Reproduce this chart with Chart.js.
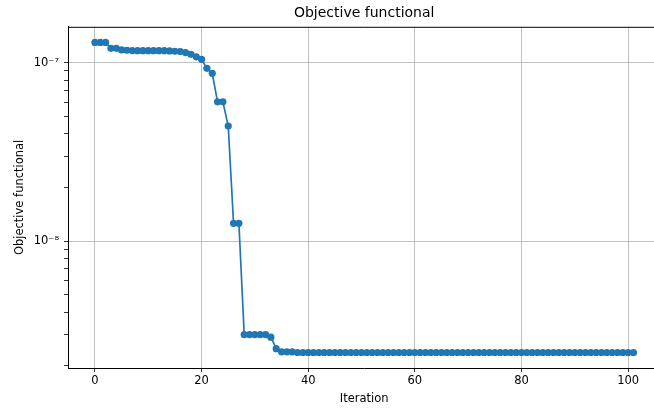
<!DOCTYPE html>
<html>
<head>
<meta charset="utf-8">
<script src="https://cdn.jsdelivr.net/npm/chart.js@4"></script>
<style>
  html, body { margin: 0; padding: 0; background: #fff; overflow: hidden; }
</style>
</head>
<body>
<canvas id="chart-objective" width="664" height="408"></canvas>
<script>
// objective value per optimisation iteration
const objective = [
  1.30e-7, 1.30e-7, 1.30e-7, 1.205e-7, 1.205e-7, 1.18e-7, 1.175e-7, 1.17e-7, 1.168e-7, 1.168e-7,
  1.168e-7, 1.168e-7, 1.168e-7, 1.168e-7, 1.165e-7, 1.16e-7, 1.155e-7, 1.14e-7, 1.115e-7, 1.08e-7,
  1.045e-7, 9.3e-8, 8.72e-8, 6.04e-8, 6.04e-8, 4.42e-8, 1.26e-8, 1.26e-8, 3.0e-9, 3.0e-9,
  3.0e-9, 3.0e-9, 3.0e-9, 2.9e-9, 2.5e-9, 2.4e-9, 2.4e-9, 2.4e-9, 2.38e-9, 2.38e-9,
  2.38e-9, 2.38e-9, 2.38e-9, 2.38e-9, 2.38e-9, 2.38e-9, 2.38e-9, 2.38e-9, 2.38e-9, 2.38e-9,
  2.38e-9, 2.38e-9, 2.38e-9, 2.38e-9, 2.38e-9, 2.38e-9, 2.38e-9, 2.38e-9, 2.38e-9, 2.38e-9,
  2.38e-9, 2.38e-9, 2.38e-9, 2.38e-9, 2.38e-9, 2.38e-9, 2.38e-9, 2.38e-9, 2.38e-9, 2.38e-9,
  2.38e-9, 2.38e-9, 2.38e-9, 2.38e-9, 2.38e-9, 2.38e-9, 2.38e-9, 2.38e-9, 2.38e-9, 2.38e-9,
  2.38e-9, 2.38e-9, 2.38e-9, 2.38e-9, 2.38e-9, 2.38e-9, 2.38e-9, 2.38e-9, 2.38e-9, 2.38e-9,
  2.38e-9, 2.38e-9, 2.38e-9, 2.38e-9, 2.38e-9, 2.38e-9, 2.38e-9, 2.38e-9, 2.38e-9, 2.38e-9,
  2.38e-9, 2.38e-9
];
const iterations = objective.map((_, i) => i);

const xTicks = [0, 20, 40, 60, 80, 100];
const yMajorTicks = [1e-8, 1e-7];
const yMajorLabels = ["10⁻⁸", "10⁻⁷"];
const yMinorTicks = [2e-9, 3e-9, 4e-9, 5e-9, 6e-9, 7e-9, 8e-9, 9e-9,
                     2e-8, 3e-8, 4e-8, 5e-8, 6e-8, 7e-8, 8e-8, 9e-8];

const blue = "#1f77b4";
const font = { family: "DejaVu Sans", size: 11.5 };

function majorIndex(v) {
  return yMajorTicks.findIndex(m => Math.abs(v / m - 1) < 1e-6);
}

// top spine, like a boxed axes
const frame = {
  id: "frame",
  afterDraw(chart) {
    const { ctx, chartArea } = chart;
    ctx.save();
    ctx.strokeStyle = "#000";
    ctx.lineWidth = 1;
    ctx.beginPath();
    ctx.moveTo(chartArea.left, chartArea.top + 0.5);
    ctx.lineTo(chartArea.right, chartArea.top + 0.5);
    ctx.stroke();
    ctx.restore();
  }
};

const ctx = document.getElementById("chart-objective").getContext("2d");
new Chart(ctx, {
  type: "line",
  data: {
    datasets: [{
      data: iterations.map((x, i) => ({ x: x, y: objective[i] })),
      borderColor: blue,
      backgroundColor: blue,
      borderWidth: 1.7,
      pointRadius: 3.6,
      pointBorderWidth: 0,
      pointHoverRadius: 3.6,
      tension: 0
    }]
  },
  plugins: [frame],
  options: {
    responsive: false,
    animation: false,
    layout: { padding: 0 },
    plugins: {
      legend: { display: false },
      tooltip: { enabled: false },
      title: {
        display: true,
        text: "Objective functional",
        fullSize: false,
        color: "#000",
        font: { family: "DejaVu Sans", size: 14, weight: "normal" },
        padding: { top: 5, bottom: 5 }
      }
    },
    scales: {
      x: {
        type: "linear",
        min: -5.05,
        max: 106.05,
        afterBuildTicks: scale => { scale.ticks = xTicks.map(v => ({ value: v })); },
        afterFit: scale => { scale.height = 40; },
        ticks: { color: "#000", font: font, padding: 2, autoSkip: false, maxRotation: 0 },
        grid: { color: "#b0b0b0", lineWidth: 0.8, tickColor: "#000", tickLength: 4 },
        border: { display: true, color: "#000", width: 1 },
        title: { display: true, text: "Iteration", color: "#000", font: font, padding: { top: 0, bottom: 2 } }
      },
      y: {
        type: "logarithmic",
        min: 1.948e-9,
        max: 1.59e-7,
        afterBuildTicks: scale => {
          scale.ticks = yMinorTicks.concat(yMajorTicks).sort((a, b) => a - b).map(v => ({ value: v }));
        },
        afterFit: scale => { scale.width = 68; },
        ticks: {
          color: "#000",
          font: font,
          padding: 5,
          autoSkip: false,
          callback: v => majorIndex(v) >= 0 ? yMajorLabels[majorIndex(v)] : ""
        },
        grid: {
          color: c => (c.tick && majorIndex(c.tick.value) >= 0) ? "#b0b0b0" : "rgba(0,0,0,0)",
          lineWidth: 0.8,
          tickColor: "#000",
          tickLength: 4
        },
        border: { display: true, color: "#000", width: 1 },
        title: { display: true, text: "Objective functional", color: "#000", font: font, padding: { top: 13, bottom: 0 } }
      }
    }
  }
});
</script>
</body>
</html>
